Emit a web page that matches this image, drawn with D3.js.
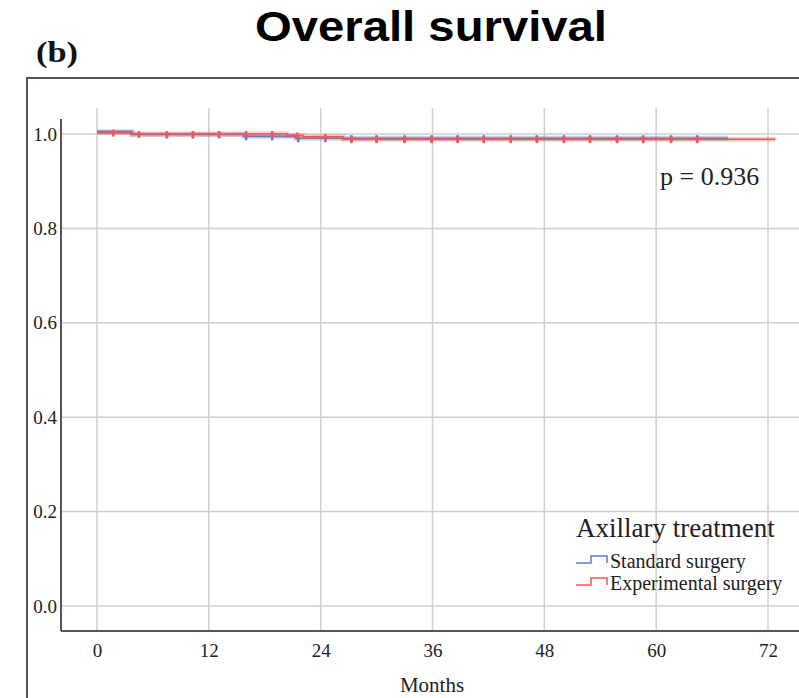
<!DOCTYPE html>
<html>
<head>
<meta charset="utf-8">
<script src="https://cdn.jsdelivr.net/npm/d3@7"></script>
<style>
	body { margin: 0; background: #fff; }
	svg text { font-family: "Liberation Serif", "Times New Roman", serif; fill: #222; }
</style>
</head>
<body>
<div id="chart"></div>
<script>
// axis ticks
var xticks = [0, 12, 24, 36, 48, 60, 72];
var yticks = [0.0, 0.2, 0.4, 0.6, 0.8, 1.0];

// Kaplan-Meier steps
var stdTimes = [0, 3.7, 15.7, 21.3, 67.7];
var stdSurv  = [1.005, 0.999, 0.995, 0.991, 0.991];
var expTimes = [0, 3.8, 20.4, 22.1, 26.4, 72.8];
var expSurv  = [1.003, 1.000, 0.997, 0.994, 0.989, 0.989];

// censor marks (months)
var stdCensor = [7.5, 10.3, 13.1, 16.0, 18.8, 21.6, 24.5, 27.3, 30.0, 33.0, 35.9, 38.7, 41.5, 44.4, 47.2, 50.1, 52.9, 55.8, 58.6, 61.6, 64.4];
var expCensor = [1.75, 4.5, 7.5, 10.3, 13.1, 16.0, 18.8, 21.5, 24.5, 27.3, 30.0, 33.0, 35.9, 38.7, 41.5, 44.4, 47.2, 50.1, 52.9, 55.8, 58.6, 61.6, 64.4];

var series = [
	{ name: "Standard surgery", times: stdTimes, surv: stdSurv, censor: stdCensor, color: "#5a7bd4" },
	{ name: "Experimental surgery", times: expTimes, surv: expSurv, censor: expCensor, color: "#ec5a56" }
];

const W = 799, H = 698;
const pLeft = 61, pRight = 799, pTop = 108, pBottom = 631;

var svg = d3.select("#chart").append("svg")
	.attr("width", W)
	.attr("height", H);

var x = d3.scaleLinear([0, 72], [97, 768]);
var y = d3.scaleLinear([0, 1], [606, 134]);

// outer frame
svg.append("path")
	.attr("d", `M27,${H} L27,78 L${W},78`)
	.attr("fill", "none")
	.attr("stroke", "#555")
	.attr("stroke-width", 2);

// grid
svg.append("g").selectAll("line")
	.data(yticks)
	.join("line")
		.attr("x1", pLeft).attr("x2", pRight)
		.attr("y1", d => y(d)).attr("y2", d => y(d))
		.attr("stroke", "#cfcfcf").attr("stroke-width", 1.5);

svg.append("g").selectAll("line")
	.data(xticks)
	.join("line")
		.attr("x1", d => x(d)).attr("x2", d => x(d))
		.attr("y1", pTop).attr("y2", pBottom)
		.attr("stroke", "#cfcfcf").attr("stroke-width", 1.5);

// axes
var xaxis = d3.axisBottom(x).tickValues(xticks).tickSize(0).tickPadding(13);
var yaxis = d3.axisLeft(y).tickValues(yticks).tickSize(0).tickPadding(4).tickFormat(d3.format(".1f"));

var gx = svg.append("g").attr("transform", `translate(0,${pBottom})`).call(xaxis);
var gy = svg.append("g").attr("transform", `translate(${pLeft},0)`).call(yaxis);

gx.select(".domain").remove();
gy.select(".domain").remove();
gx.selectAll("text").style("font-size", "19px").attr("fill", "#222");
gy.selectAll("text").style("font-size", "19px").attr("fill", "#222");

svg.append("line")
	.attr("x1", pLeft).attr("x2", pRight)
	.attr("y1", pBottom).attr("y2", pBottom)
	.attr("stroke", "#555").attr("stroke-width", 2);
svg.append("line")
	.attr("x1", pLeft).attr("x2", pLeft)
	.attr("y1", 119).attr("y2", pBottom)
	.attr("stroke", "#555").attr("stroke-width", 2);

// curves
function stepAt(s, t) {
	var v = s.surv[0];
	s.times.forEach((tt, i) => { if (tt <= t) v = s.surv[i]; });
	return v;
}

var line = d3.line().curve(d3.curveStepAfter).x(d => x(d[0])).y(d => y(d[1]));

series.forEach(s => {
	var pts = s.times.map((t, i) => [t, s.surv[i]]);
	svg.append("path")
		.attr("d", line(pts))
		.attr("fill", "none")
		.attr("stroke", s.color)
		.attr("stroke-opacity", 0.3)
		.attr("stroke-width", 5);
	svg.append("path")
		.attr("d", line(pts))
		.attr("fill", "none")
		.attr("stroke", s.color)
		.attr("stroke-width", 1.6);
	svg.append("g").selectAll("line")
		.data(s.censor)
		.join("line")
			.attr("x1", d => x(d)).attr("x2", d => x(d))
			.attr("y1", d => y(stepAt(s, d)) - 3)
			.attr("y2", d => y(stepAt(s, d)) + 4)
			.attr("stroke", s.color)
			.attr("stroke-width", 2.5);
});

// texts
svg.append("text")
	.attr("x", 431).attr("y", 41)
	.attr("text-anchor", "middle")
	.attr("textLength", 352)
	.attr("lengthAdjust", "spacingAndGlyphs")
	.style("font-family", "'Liberation Sans', Arial, sans-serif")
	.style("font-weight", "bold")
	.style("font-size", "42px")
	.style("fill", "#000")
	.text("Overall survival");

svg.append("text")
	.attr("x", 36).attr("y", 62)
	.attr("textLength", 42)
	.attr("lengthAdjust", "spacingAndGlyphs")
	.style("font-weight", "bold")
	.style("font-size", "30px")
	.style("fill", "#111")
	.text("(b)");

svg.append("text")
	.attr("x", 432).attr("y", 692)
	.attr("text-anchor", "middle")
	.style("font-size", "21px")
	.text("Months");

svg.append("text")
	.attr("x", 660).attr("y", 185)
	.style("font-size", "26px")
	.text("p = 0.936");

// legend
svg.append("text")
	.attr("x", 576).attr("y", 537)
	.style("font-size", "27px")
	.text("Axillary treatment");

var leg = svg.append("g").selectAll("g")
	.data(series)
	.join("g")
		.attr("transform", (d, i) => `translate(576,${563 + i * 22})`);

leg.append("path")
	.attr("d", "M0,0 L15,0 L15,-7 L31,-7 L31,0")
	.attr("fill", "none")
	.attr("stroke", d => d.color)
	.attr("stroke-width", 1.5);

leg.append("text")
	.attr("x", 34).attr("y", 5)
	.style("font-size", "20px")
	.text(d => d.name);
</script>
</body>
</html>
